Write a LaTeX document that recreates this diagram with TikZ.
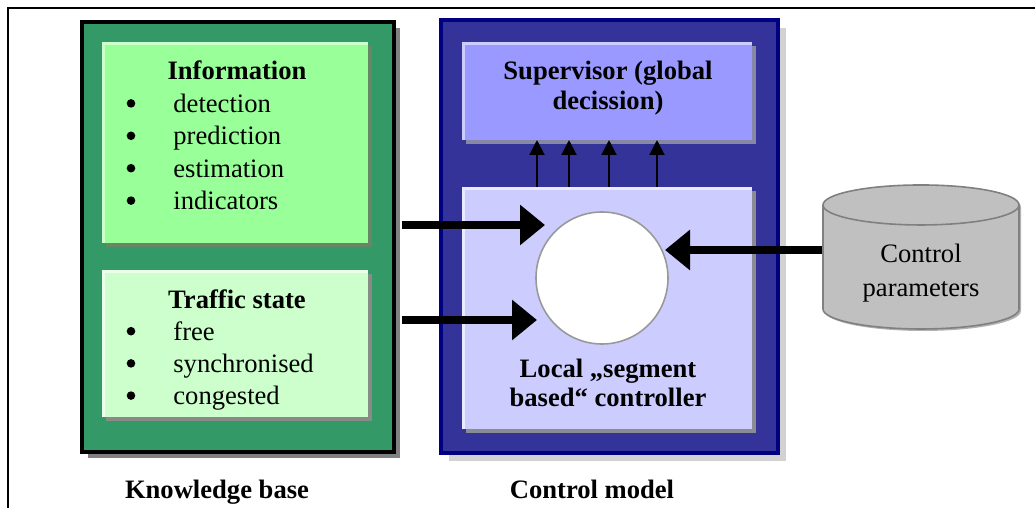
\documentclass[tikz,border=0pt]{standalone}
\usepackage{fontspec}
\setmainfont{Liberation Serif}
\usetikzlibrary{positioning,fit,shadows,shapes.geometric,arrows.meta}

\definecolor{kbgreen}{HTML}{339966}
\definecolor{infogreen}{HTML}{99FF99}
\definecolor{stategreen}{HTML}{CCFFCC}
\definecolor{cmblue}{HTML}{333399}
\definecolor{cmnavy}{HTML}{000080}
\definecolor{supblue}{HTML}{9999FF}
\definecolor{locblue}{HTML}{CCCCFF}
\definecolor{cylgray}{HTML}{C0C0C0}

\begin{document}
\begin{tikzpicture}[x=0.5pt,y=-0.5pt,
    every node/.style={font=\fontsize{13.3}{16}\selectfont},
    outer box/.style={inner sep=0pt,line width=2pt,fill=#1},
    inner box/.style={inner sep=0pt,outer sep=0pt,fill=#1},
    hilite/.style={line width=1.5pt,draw=#1},
    title/.style={anchor=base,font=\bfseries\fontsize{13.3}{16}\selectfont},
    item/.style={anchor=base west,inner sep=0pt},
    dot/.style={circle,fill=black,inner sep=0pt,minimum size=4.3pt},
    big arrow/.style={line width=3.75pt,-{Triangle[width=19.5pt,length=12.5pt]}},
    up arrow/.style={line width=1pt,-{Triangle[width=7.5pt,length=7.5pt]}}]

  \useasboundingbox (0,0) rectangle (1035,508);
  \draw[line width=0.8pt] (8,508) -- (8,8) -- (1035,8);

  \node[outer box=kbgreen,draw=black,
        drop shadow={shadow xshift=3pt,shadow yshift=-3pt,fill=gray,opacity=1},
        fit={(82,22) (394,452)}] (kb) {};
  \node[inner box=infogreen,
        drop shadow={shadow xshift=2pt,shadow yshift=-2pt,fill=black!45!infogreen!60!gray,opacity=1},
        fit={(102,42) (368,243)}] (info) {};
  \draw[hilite=stategreen] ([xshift=0.75pt]info.south west) -- ([shift={(0.75pt,-0.75pt)}]info.north west) -- ([yshift=-0.75pt]info.north east);
  \node[inner box=stategreen,
        drop shadow={shadow xshift=2pt,shadow yshift=-2pt,fill=gray!90!stategreen,opacity=1},
        fit={(102,270) (368,417)}] (state) {};
  \draw[hilite=white!60!stategreen] ([xshift=0.75pt]state.south west) -- ([shift={(0.75pt,-0.75pt)}]state.north west) -- ([yshift=-0.75pt]state.north east);

  \node[title] (infotitle) at (237,80) {Information};
  \foreach \txt [count=\i] in {detection,prediction,estimation,indicators} {
    \node[dot] (infobul\i) at (131,71+\i*32.4) {};
    \node[item] (infoitem\i) at (173,80+\i*32.4) {\txt};
  }
  \node[title] (statetitle) at (237,308) {Traffic state};
  \foreach \txt [count=\i] in {free,synchronised,congested} {
    \node[dot] (statebul\i) at (131,299+\i*32.2) {};
    \node[item] (stateitem\i) at (173,308+\i*32.2) {\txt};
  }

  \node[outer box=cmblue,draw=cmnavy,
        drop shadow={shadow xshift=4pt,shadow yshift=-4pt,fill=gray!35,opacity=1},
        fit={(441,20) (778,453)}] (cm) {};
  \node[inner box=supblue,
        drop shadow={shadow xshift=2pt,shadow yshift=-2pt,fill=gray!70!supblue,opacity=1},
        fit={(462,42) (752,140)}] (sup) {};
  \draw[hilite=locblue] ([xshift=0.75pt]sup.south west) -- ([shift={(0.75pt,-0.75pt)}]sup.north west) -- ([yshift=-0.75pt]sup.north east);
  \node[inner box=locblue,
        drop shadow={shadow xshift=2pt,shadow yshift=-2pt,fill=gray!85!locblue,opacity=1},
        fit={(462,187) (752,429)}] (loc) {};
  \draw[hilite=white!60!locblue] ([xshift=0.75pt]loc.south west) -- ([shift={(0.75pt,-0.75pt)}]loc.north west) -- ([yshift=-0.75pt]loc.north east);

  \node[title] (sup1) at (608,80) {Supervisor (global};
  \node[title] (sup2) at (608,110) {decission)};
  \node[title] (loc1) at (608,377) {Local „segment};
  \node[title] (loc2) at (608,407) {based“ controller};

  \node[circle,fill=white,draw=gray!80,line width=0.8pt,minimum size=66pt,inner sep=0pt] (ctrl) at (602,278) {};

  \foreach \x in {537,569,609,657}
    \draw[up arrow] (\x,0 |- loc.north) -- (\x,0 |- sup.south);

  \node[cylinder,shape border rotate=90,aspect=3,minimum height=72pt,minimum width=98pt,
        fill=cylgray,draw=gray,line width=0.8pt,
        drop shadow={shadow xshift=1pt,shadow yshift=-1pt,fill=gray!60,opacity=1}] (ctrlpar) at (921,271) {};
  \node[anchor=base] (cp1) at (921,263) {Control};
  \node[anchor=base] (cp2) at (921,297) {parameters};

  \coordinate (tip1) at (545,225);
  \coordinate (tip2) at (537,320);
  \coordinate (tip3) at (665,250);
  \draw[big arrow,shorten <=3pt] (kb.east |- tip1) -- (tip1);
  \draw[big arrow,shorten <=3pt] (kb.east |- tip2) -- (tip2);
  \draw[big arrow] (ctrlpar.west |- tip3) -- (tip3);

  \node[title] (kblabel) at (217,498) {Knowledge base};
  \node[title] (cmlabel) at (592,498) {Control model};
\end{tikzpicture}
\end{document}
